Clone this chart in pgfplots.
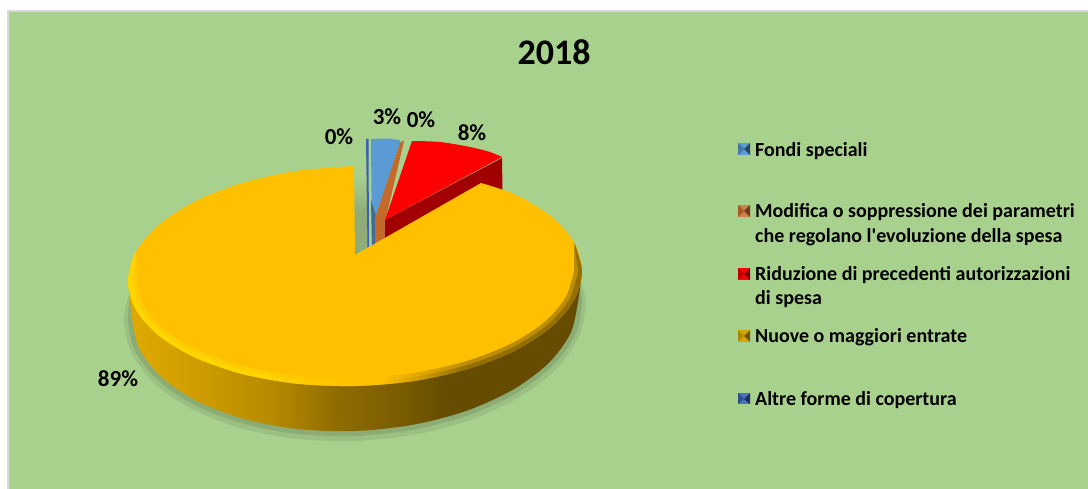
\documentclass[border=0pt]{standalone}
\usepackage{fontspec}
\setmainfont{Carlito}
\newfontfamily\plainfont{Carlito}
\usepackage{pgfplots}
\pgfplotsset{compat=1.18}

\definecolor{bg}{HTML}{A9D18E}
\definecolor{edge}{HTML}{D9D9D9}
\definecolor{yel}{HTML}{FFC000}
\definecolor{redtop}{HTML}{FF0000}
\definecolor{redside}{HTML}{A00000}
\definecolor{blu}{HTML}{5B9BD5}
\definecolor{org}{HTML}{C5692A}
\definecolor{navy}{HTML}{3A62B0}
\definecolor{wa}{HTML}{E0AA00}
\definecolor{wb}{HTML}{CE9C00}
\definecolor{wc}{HTML}{B58A00}
\definecolor{wd}{HTML}{8F6C00}
\definecolor{we}{HTML}{7A5C00}
\definecolor{wf}{HTML}{654C00}
\definecolor{ra}{HTML}{FFDC00}
\definecolor{rb}{HTML}{FFC800}
\definecolor{rc}{HTML}{B88A00}
\definecolor{gap}{HTML}{90AC78}

% stops run from 25bp (left of the path) to 75bp (right of the path)
\pgfdeclarehorizontalshading{wallshade}{100bp}{
  color(0bp)=(wa); color(25bp)=(wa); color(33bp)=(wb);
  color(41bp)=(wc); color(48bp)=(wd); color(55bp)=(we);
  color(60bp)=(wf); color(100bp)=(wf)}
\pgfdeclarehorizontalshading{rimshade}{100bp}{
  color(0bp)=(ra); color(25bp)=(ra); color(40bp)=(ra);
  color(47bp)=(rb); color(53bp)=(yel); color(58bp)=(rc);
  color(62bp)=(we); color(100bp)=(we)}
\pgfdeclareverticalshading{gapshade}{100bp}{
  color(0bp)=(gap); color(50bp)=(gap); color(72bp)=(bg); color(100bp)=(bg)}

\newcommand{\swatch}[6]{%
  \addplot[fill=#4, draw=none] coordinates {(738,#1) (750,#1) (750,#3) (738,#3)} -- cycle;
  \addplot[fill=#5, draw=none] coordinates {(738,#1) (744,#2) (738,#3)} -- cycle;
  \addplot[fill=#6, draw=none] coordinates {(750,#1) (744,#2) (750,#3)} -- cycle;
}

\begin{document}
\begin{tikzpicture}
\begin{axis}[
  scale only axis, width=1088pt, height=489pt,
  xmin=0, xmax=1088, ymin=0, ymax=489, y dir=reverse,
  hide axis, clip=true,
]
% background
\addplot[fill=white, draw=none] coordinates {(0,0) (1088,0) (1088,489) (0,489)} -- cycle;
\addplot[fill=edge, draw=none] coordinates {(7,10) (1088,10) (1088,489) (7,489)} -- cycle;
\addplot[fill=bg, draw=none] coordinates {(9,12) (1088,12) (1088,489) (9,489)} -- cycle;

% soft shadow under the pie
\addplot[fill=black!55!bg, fill opacity=0.14, draw=none, smooth] coordinates {
  (578,275) (586,302) (579,336) (556.8,368.6) (519.8,396.9) (471.5,419.5) (415.4,434.5) (355,441)
  (294.6,438.7) (238.5,427.5) (190.2,408.3) (153.2,382.4) (131,351.6) (124,318) (132,285)} -- cycle;
\addplot[fill=black!55!bg, fill opacity=0.20, draw=none, smooth] coordinates {
  (578,275) (582,302) (575.2,335) (552.4,366) (516.2,393.3) (469,415) (414,429.6) (355,436)
  (296,433.8) (241,423) (193.8,404.7) (157.6,380) (134.8,350.3) (128,318) (132,285)} -- cycle;

% grey gap behind the small slices
\addplot[shading=gapshade, draw=none] coordinates {(354,170) (369,170) (369,250) (354,256)} -- cycle;

% small slices, back to front
\addplot[fill=navy, draw=none] coordinates {(366,139) (368.5,139) (369,247) (367.5,247)} -- cycle;
\addplot[fill=blu, draw=none] coordinates {(371,139) (386,138.5) (400,140) (400,143) (376,216) (375,246) (372,248)} -- cycle;
\addplot[fill=blu!70!black, draw=none] coordinates {(371,200) (376,216) (375,246) (372,248)} -- cycle;
\addplot[fill=org, draw=none] coordinates {(375,218) (400,143) (402,141) (404,141) (385,222) (385,242) (375,248)} -- cycle;
\addplot[fill=redside, draw=none] coordinates {(385,220) (502,158) (503,225) (385,270)} -- cycle;
\addplot[fill=redtop, draw=none, smooth] coordinates {
  (412,141) (440,142) (470,147) (490,152) (502,157)} -- (axis cs:385,220) -- cycle;

% big slice: side wall, then top with rim
\addplot[shading=wallshade, draw=none, smooth] coordinates {
  (128,281) (132,318) (139.6,349) (161.9,377.4) (197.3,401.2) (243.5,418.8) (297.2,429)
  (355,431) (412.8,424.8) (466.5,410.8) (512.7,389.8) (548.1,363.6) (570.4,333.6) (578,302) (582,271)} -- cycle;
\addplot[fill=yel, draw=none, smooth] coordinates {
  (481,183) (515.5,194.7) (551.6,216.7) (574.3,242.7) (582,271) (574.3,299.7) (551.6,326.7)
  (515.5,350.3) (468.5,368.8) (413.8,381) (355,386) (296.2,383.6) (241.5,373.8) (194.5,357.3)
  (158.4,335.3) (135.7,309.3) (128,281) (135.7,252.3) (158.4,225.3) (194.5,201.7) (241.5,183.2)
  (296.2,171) (354,166)} -- (axis cs:355,255) -- cycle;
\addplot[shading=rimshade, draw=none, fill opacity=0.5, smooth] coordinates {
  (574.3,242.7) (582,271) (574.3,299.7) (551.6,326.7) (515.5,350.3) (468.5,368.8) (413.8,381)
  (355,386) (296.2,383.6) (241.5,373.8) (194.5,357.3) (158.4,335.3) (135.7,309.3) (128,281) (135.7,252.3)
  (137,281) (144.4,307.2) (166.2,331.3) (200.9,351.6) (246,366.8) (298.5,375.8) (355,378)
  (411.5,373.2) (464,361.8) (509.1,344.6) (543.8,322.7) (565.6,297.6) (574,271)} -- cycle;
\addplot[shading=rimshade, draw=none, fill opacity=0.6, smooth] coordinates {
  (574.3,242.7) (582,271) (574.3,299.7) (551.6,326.7) (515.5,350.3) (468.5,368.8) (413.8,381)
  (355,386) (296.2,383.6) (241.5,373.8) (194.5,357.3) (158.4,335.3) (135.7,309.3) (128,281) (135.7,252.3)
  (132.5,281) (140.1,308.3) (162.3,333.3) (197.7,354.4) (243.8,370.3) (297.4,379.7) (355,382)
  (412.6,377.1) (466.3,365.3) (512.3,347.4) (547.7,324.7) (569.9,298.7) (578,271)} -- cycle;

% legend keys
\swatch{143}{149}{155}{blu}{blu!75!black}{blu!45!black}
\swatch{205}{211}{217}{org!85!white}{org!85!black}{org!55!black}
\swatch{268}{274}{280}{redtop}{redtop!75!black}{redtop!50!black}
\swatch{330}{336}{342}{yel!85!black}{yel!70!black}{yel!45!black}
\swatch{393}{399}{404}{navy!90!white}{navy!80!black}{navy!50!black}

% title, data labels, legend text
\node[font=\fontsize{36}{40}\selectfont\bfseries] at (axis cs:554,52) {2018};
\begin{scope}[font=\fontsize{23}{26}\selectfont\bfseries]
\node at (axis cs:339,137) {0\%};
\node at (axis cs:387,117) {3\%};
\node at (axis cs:421,120) {0\%};
\node at (axis cs:472,133) {8\%};
\node at (axis cs:118,379) {89\%};
\end{scope}
\begin{scope}[font=\plainfont\fontsize{20}{25}\selectfont\bfseries]
\node[anchor=base west, inner sep=0pt] at (axis cs:755,157) {Fondi speciali};
\node[anchor=base west, inner sep=0pt] at (axis cs:755,218) {Modifica o soppressione dei parametri};
\node[anchor=base west, inner sep=0pt] at (axis cs:755,243) {che regolano l'evoluzione della spesa};
\node[anchor=base west, inner sep=0pt] at (axis cs:755,281) {Riduzione di precedenti autorizzazioni};
\node[anchor=base west, inner sep=0pt] at (axis cs:755,305) {di spesa};
\node[anchor=base west, inner sep=0pt] at (axis cs:755,343) {Nuove o maggiori entrate};
\node[anchor=base west, inner sep=0pt] at (axis cs:755,405) {Altre forme di copertura};
\end{scope}
\end{axis}
\end{tikzpicture}
\end{document}
